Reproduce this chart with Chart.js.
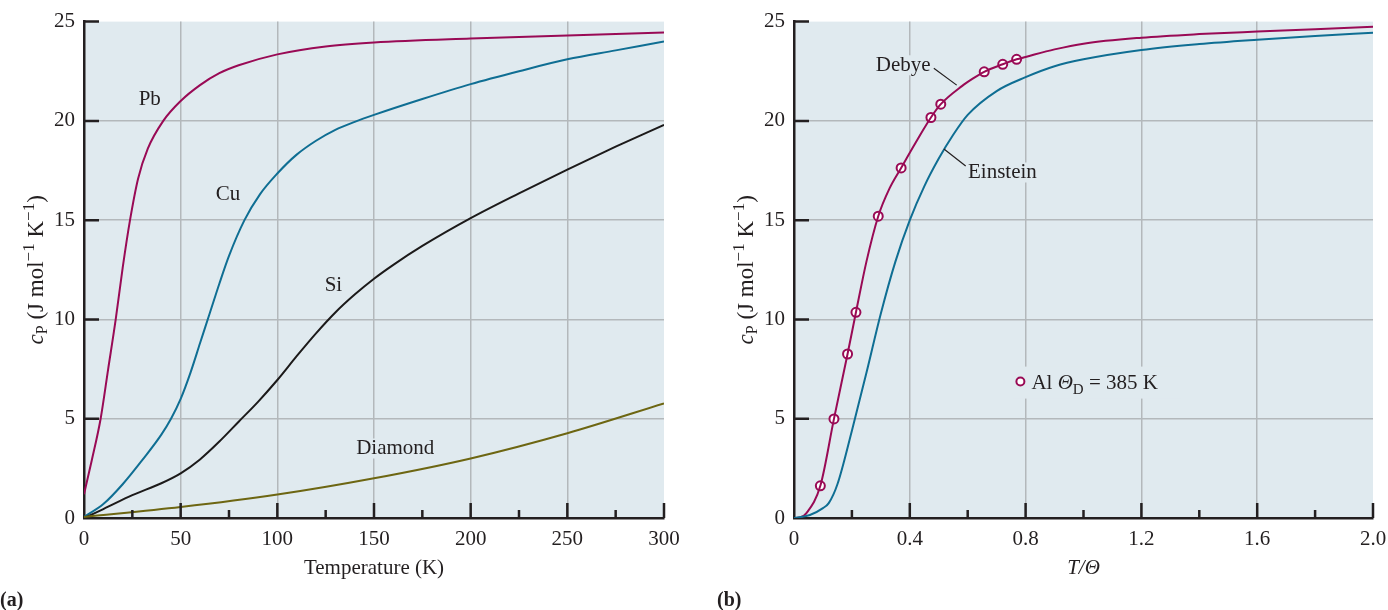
<!DOCTYPE html>
<html>
<head>
<meta charset="utf-8">
<script src="https://cdn.jsdelivr.net/npm/chart.js@4.4.1/dist/chart.umd.min.js"></script>
<style>
  html, body { margin: 0; padding: 0; background: #fff; }
  #wrap { position: relative; width: 1388px; height: 610px; overflow: hidden; }
  canvas { position: absolute; top: 0; }
</style>
</head>
<body>
<div id="wrap">
  <canvas id="chartA" width="694" height="610" style="left:0px"></canvas>
  <canvas id="chartB" width="694" height="610" style="left:694px"></canvas>
</div>
<script>
// ---- panel (a): heat capacity vs temperature ----
const tempPb = [0, 4, 8.6, 12.5, 16.4, 20, 23.8, 28, 33, 41, 50, 60, 70, 80, 100, 125, 150, 200, 250, 300];
const cpPb   = [1.2, 2.9, 5.0, 7.5, 10.0, 12.6, 15.0, 17.1, 18.6, 20.0, 21.0, 21.8, 22.4, 22.8, 23.35, 23.75, 23.95, 24.15, 24.3, 24.45];

const tempCu = [0, 10, 20, 30, 40, 45, 50, 55, 60, 65, 70, 75, 83, 91, 100, 110, 120, 130, 140, 150, 175, 200, 225, 250, 275, 300];
const cpCu   = [0.05, 0.7, 1.7, 2.9, 4.2, 5.0, 6.0, 7.3, 8.8, 10.3, 11.8, 13.2, 15.0, 16.3, 17.35, 18.3, 19.0, 19.55, 19.95, 20.3, 21.1, 21.85, 22.5, 23.1, 23.55, 24.0];

const tempSi = [0, 10, 25, 40, 50, 60, 70, 80, 90, 100, 110, 120, 130, 140, 150, 160, 175, 200, 225, 250, 275, 300];
const cpSi   = [0, 0.45, 1.15, 1.75, 2.25, 2.95, 3.85, 4.85, 5.85, 6.95, 8.15, 9.3, 10.35, 11.25, 12.05, 12.75, 13.7, 15.1, 16.35, 17.55, 18.7, 19.8];

const tempDia = [0, 50, 100, 150, 200, 250, 300];
const cpDia   = [0.05, 0.55, 1.18, 2.0, 3.0, 4.27, 5.77];

const tempTicks = ['0', '50', '100', '150', '200', '250', '300'];
const cpTicks = ['0', '5', '10', '15', '20', '25'];

// ---- panel (b): Debye and Einstein vs T/Theta ----
const ratioDebye = [0, 0.02, 0.043, 0.091, 0.138, 0.185, 0.214, 0.25, 0.291, 0.33, 0.37, 0.42, 0.473, 0.507, 0.58, 0.62, 0.657, 0.721, 0.769, 0.8, 0.9, 1.0, 1.2, 1.4, 1.6, 1.8, 2.0];
const cpDebye    = [0, 0.02, 0.25, 1.62, 4.99, 8.26, 10.36, 12.9, 15.2, 16.6, 17.63, 18.9, 20.17, 20.84, 21.75, 22.15, 22.47, 22.85, 23.1, 23.22, 23.6, 23.89, 24.19, 24.37, 24.5, 24.62, 24.74];

const ratioEinstein = [0, 0.055, 0.1, 0.12, 0.15, 0.2, 0.25, 0.3, 0.35, 0.4, 0.45, 0.5, 0.55, 0.6, 0.7, 0.8, 0.9, 1.0, 1.2, 1.4, 1.6, 1.8, 2.0];
const cpEinstein    = [0, 0.15, 0.5, 0.75, 1.7, 4.4, 7.3, 10.3, 12.9, 15.0, 16.7, 18.1, 19.3, 20.3, 21.5, 22.2, 22.75, 23.1, 23.57, 23.87, 24.09, 24.28, 24.44];

// measured points for Al (Theta_D = 385 K)
const ratioAl = [0.091, 0.138, 0.185, 0.214, 0.291, 0.370, 0.473, 0.507, 0.657, 0.721, 0.769];
const cpAl    = [1.62, 4.99, 8.26, 10.36, 15.2, 17.63, 20.17, 20.84, 22.47, 22.85, 23.1];

const ratioTicks = ['0', '0.4', '0.8', '1.2', '1.6', '2.0'];

const red = '#990a55';
const blue = '#0f6e93';
const black = '#1c1a1a';
const olive = '#6d6612';
const ink = '#231f20';
const plotBg = '#e0eaef';
const gridColor = '#b3b8bb';
const serif = '"Liberation Serif", "Times New Roman", serif';

function pts(xs, ys) {
  return xs.map((x, i) => ({ x: x, y: ys[i] }));
}

function curve(xs, ys, color) {
  return {
    data: pts(xs, ys),
    showLine: true,
    borderColor: color,
    borderWidth: 2,
    pointRadius: 0,
    cubicInterpolationMode: 'monotone',
    fill: false
  };
}

// text with italics / sub / superscripts, drawn piece by piece
function drawRich(ctx, parts, x, y, rotate, align) {
  ctx.save();
  ctx.translate(x, y);
  if (rotate) ctx.rotate(-Math.PI / 2);
  ctx.textAlign = 'left';
  ctx.textBaseline = 'alphabetic';
  ctx.fillStyle = ink;
  let w = 0;
  parts.forEach(p => { ctx.font = p.f; w += ctx.measureText(p.t).width; });
  let cx = align === 'left' ? 0 : -w / 2;
  parts.forEach(p => {
    ctx.font = p.f;
    ctx.fillText(p.t, cx, p.dy || 0);
    cx += ctx.measureText(p.t).width;
  });
  ctx.restore();
}

function label(ctx, text, x, y, font, bg) {
  ctx.save();
  ctx.font = font;
  ctx.textAlign = 'center';
  ctx.textBaseline = 'middle';
  if (bg) {
    const w = ctx.measureText(text).width;
    ctx.fillStyle = plotBg;
    ctx.fillRect(x - w / 2 - 2, y - 10, w + 4, 20);
  }
  ctx.fillStyle = ink;
  ctx.fillText(text, x, y);
  ctx.restore();
}

function yTitleParts() {
  return [
    { t: 'c', f: 'italic 23px ' + serif },
    { t: 'P', f: '16px ' + serif, dy: 4 },
    { t: ' (J mol', f: '23px ' + serif },
    { t: '\u22121', f: '17px ' + serif, dy: -9 },
    { t: ' K', f: '23px ' + serif },
    { t: '\u22121', f: '17px ' + serif, dy: -9 },
    { t: ')', f: '23px ' + serif }
  ];
}

// inward tick marks, background, titles and labels
function decor(cfg) {
  return {
    id: 'decor' + cfg.name,
    beforeDraw(chart) {
      const a = chart.chartArea;
      const ctx = chart.ctx;
      ctx.save();
      ctx.fillStyle = plotBg;
      ctx.fillRect(a.left, a.top, a.right - a.left, a.bottom - a.top);
      ctx.restore();
    },
    afterDatasetsDraw(chart) {
      const ctx = chart.ctx;
      const a = chart.chartArea;
      const xs = chart.scales.x, ys = chart.scales.y;
      ctx.save();
      ctx.strokeStyle = ink;
      ctx.lineWidth = 2.5;
      ctx.beginPath();
      cfg.xMajor.forEach(v => {
        const px = xs.getPixelForValue(v);
        ctx.moveTo(px, a.bottom); ctx.lineTo(px, a.bottom - 15);
      });
      cfg.xMinor.forEach(v => {
        const px = xs.getPixelForValue(v);
        ctx.moveTo(px, a.bottom); ctx.lineTo(px, a.bottom - 8);
      });
      cfg.yMajor.forEach(v => {
        const py = ys.getPixelForValue(v);
        ctx.moveTo(a.left, py); ctx.lineTo(a.left + 15, py);
      });
      ctx.stroke();
      ctx.restore();

      cfg.extra(chart, ctx, xs, ys);

      // axis titles and panel tag
      drawRich(ctx, yTitleParts(), a.left - 41, (a.top + a.bottom) / 2, true);
      label(ctx, cfg.xTitle, (a.left + a.right) / 2, 568, cfg.xTitleFont, false);
      ctx.save();
      ctx.font = 'bold 20px ' + serif;
      ctx.fillStyle = ink;
      ctx.textAlign = 'left';
      ctx.textBaseline = 'middle';
      ctx.fillText(cfg.tag, cfg.tagX, 601);
      ctx.restore();
    }
  };
}

function axisOpts(min, max, step, labels, fitKey, fitVal, pad) {
  return {
    type: 'linear',
    min: min,
    max: max,
    ticks: {
      stepSize: step,
      padding: pad,
      color: ink,
      font: { family: serif, size: 21 },
      callback: (v, i) => labels[i] !== undefined ? labels[i] : v
    },
    grid: {
      drawTicks: false,
      lineWidth: 1.5,
      color: c => (c.tick && (Math.abs(c.tick.value - min) < 1e-9 || Math.abs(c.tick.value - max) < 1e-9)) ? 'rgba(0,0,0,0)' : gridColor
    },
    border: { display: true, color: ink, width: 2.5 },
    afterFit: s => {
      s[fitKey] = fitVal;
      if (fitKey === 'height') { s.paddingRight = 0; s.paddingLeft = 0; }
    }
  };
}

const fontLbl = '21px ' + serif;

new Chart('chartA', {
  type: 'scatter',
  data: {
    datasets: [
      curve(tempDia, cpDia, olive),
      curve(tempSi, cpSi, black),
      curve(tempCu, cpCu, blue),
      curve(tempPb, cpPb, red)
    ]
  },
  options: {
    responsive: false,
    animation: false,
    layout: { padding: { top: 20, right: 30, bottom: 52, left: 0 } },
    plugins: { legend: { display: false }, tooltip: { enabled: false } },
    scales: {
      x: axisOpts(0, 300, 50, tempTicks, 'height', 40, 9),
      y: axisOpts(0, 25, 5, cpTicks, 'width', 84, 9)
    }
  },
  plugins: [decor({
    name: 'A',
    xMajor: [50, 100, 150, 200, 250, 300],
    xMinor: [25, 75, 125, 175, 225, 275],
    yMajor: [5, 10, 15, 20, 25],
    xTitle: 'Temperature (K)',
    xTitleFont: '21px ' + serif,
    tag: '(a)',
    tagX: 0,
    extra: (chart, ctx, xs, ys) => {
      label(ctx, 'Pb', xs.getPixelForValue(34), ys.getPixelForValue(21.1), fontLbl, false);
      label(ctx, 'Cu', xs.getPixelForValue(74.5), ys.getPixelForValue(16.3), fontLbl, false);
      label(ctx, 'Si', xs.getPixelForValue(129), ys.getPixelForValue(11.7), fontLbl, false);
      label(ctx, 'Diamond', xs.getPixelForValue(161), ys.getPixelForValue(3.5), fontLbl, true);
    }
  })]
});

new Chart('chartB', {
  type: 'scatter',
  data: {
    datasets: [
      curve(ratioEinstein, cpEinstein, blue),
      curve(ratioDebye, cpDebye, red),
      {
        data: pts(ratioAl, cpAl),
        showLine: false,
        pointRadius: 4.5,
        pointBorderWidth: 2,
        pointBackgroundColor: '#ffffff',
        pointBorderColor: red
      }
    ]
  },
  options: {
    responsive: false,
    animation: false,
    layout: { padding: { top: 20, right: 15, bottom: 52, left: 0 } },
    plugins: { legend: { display: false }, tooltip: { enabled: false } },
    scales: {
      x: axisOpts(0, 2, 0.4, ratioTicks, 'height', 40, 9),
      y: axisOpts(0, 25, 5, cpTicks, 'width', 100, 9)
    }
  },
  plugins: [decor({
    name: 'B',
    xMajor: [0.4, 0.8, 1.2, 1.6, 2.0],
    xMinor: [0.2, 0.6, 1.0, 1.4, 1.8],
    yMajor: [5, 10, 15, 20, 25],
    xTitle: 'T/\u0398',
    xTitleFont: 'italic 21px ' + serif,
    tag: '(b)',
    tagX: 23,
    extra: (chart, ctx, xs, ys) => {
      // leader lines
      ctx.save();
      ctx.strokeStyle = ink;
      ctx.lineWidth = 1.2;
      ctx.beginPath();
      ctx.moveTo(xs.getPixelForValue(0.483), ys.getPixelForValue(22.65));
      ctx.lineTo(xs.getPixelForValue(0.562), ys.getPixelForValue(21.8));
      ctx.moveTo(xs.getPixelForValue(0.518), ys.getPixelForValue(18.58));
      ctx.lineTo(xs.getPixelForValue(0.593), ys.getPixelForValue(17.73));
      ctx.stroke();
      ctx.restore();
      label(ctx, 'Debye', xs.getPixelForValue(0.377), ys.getPixelForValue(22.8), fontLbl, true);
      label(ctx, 'Einstein', xs.getPixelForValue(0.72), ys.getPixelForValue(17.4), fontLbl, true);

      // legend entry for the Al points
      const lx = xs.getPixelForValue(0.782), ly = ys.getPixelForValue(6.87);
      ctx.save();
      ctx.fillStyle = plotBg;
      ctx.fillRect(lx - 8, ly - 15, 168, 32);
      ctx.beginPath();
      ctx.arc(lx, ly, 4, 0, Math.PI * 2);
      ctx.fillStyle = '#ffffff';
      ctx.fill();
      ctx.strokeStyle = red;
      ctx.lineWidth = 2;
      ctx.stroke();
      ctx.restore();
      drawRich(ctx, [
        { t: 'Al ', f: '21px ' + serif },
        { t: '\u0398', f: 'italic 21px ' + serif },
        { t: 'D', f: '15px ' + serif, dy: 5 },
        { t: ' = 385 K', f: '21px ' + serif }
      ], lx + 11, ly + 7, false, 'left');
    }
  })]
});
</script>
</body>
</html>
